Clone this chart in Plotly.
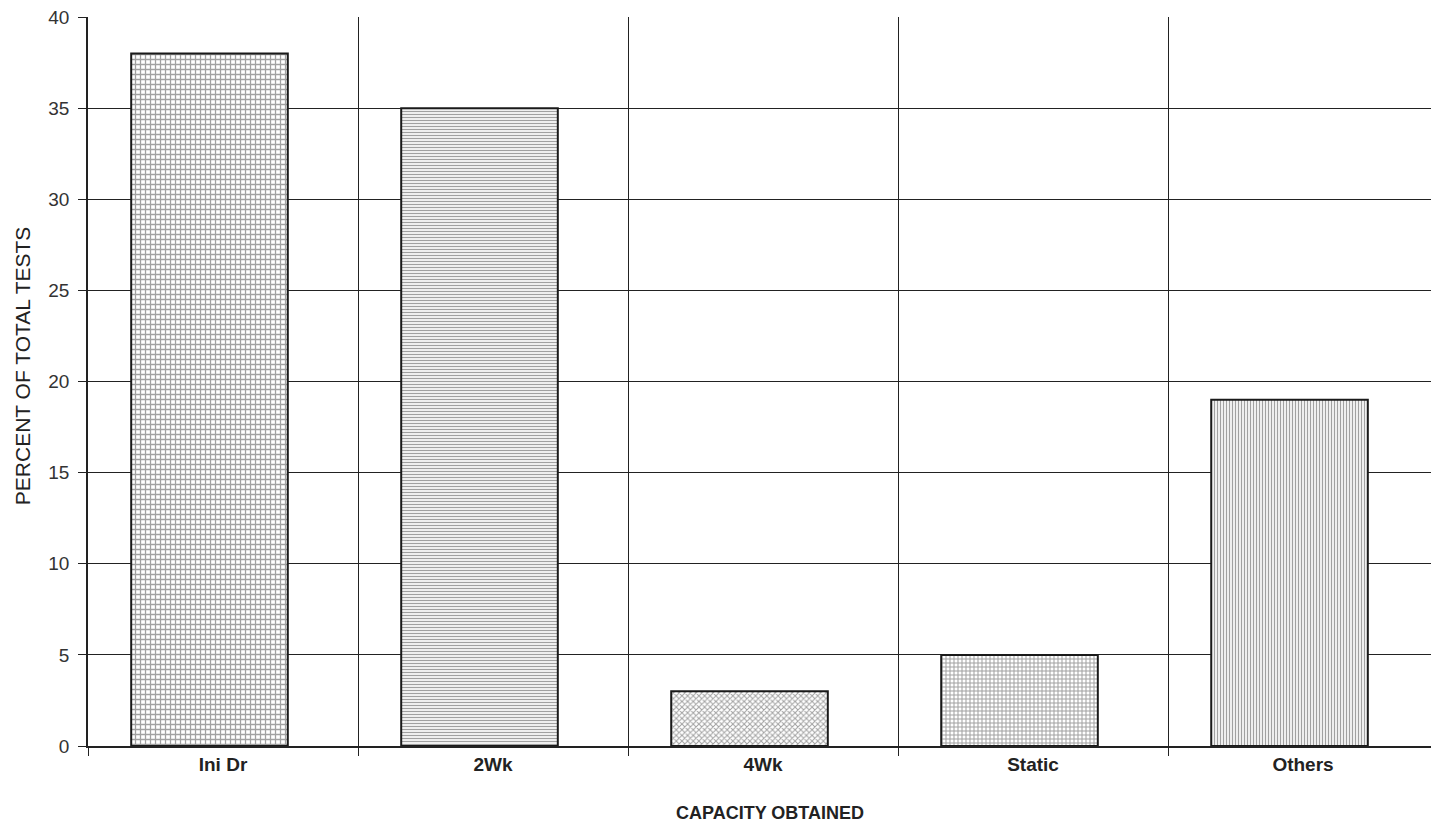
import plotly.graph_objects as go

categories = ["Ini Dr", "2Wk", "4Wk", "Static", "Others"]
percent = [38, 35, 3, 5, 19]
patterns = ["+", "-", "x", "+", "|"]
pattern_sizes = [5, 3, 4, 4, 3]
y_ticks = [0, 5, 10, 15, 20, 25, 30, 35, 40]

FONT = "Liberation Sans, Arial, sans-serif"

fig = go.Figure()
fig.add_trace(go.Bar(
    x=categories,
    y=percent,
    width=0.58,
    offset=-0.34,
    marker=dict(
        color="white",
        line=dict(color="#1a1a1a", width=2),
        pattern=dict(shape=patterns, size=pattern_sizes, solidity=0.45,
                     fgcolor="#444444", bgcolor="white", fillmode="overlay"),
    ),
    showlegend=False,
    hoverinfo="skip",
))

fig.update_layout(
    width=1431, height=829,
    paper_bgcolor="white", plot_bgcolor="white",
    margin=dict(l=88, r=0, t=17, b=83, autoexpand=False),
    font=dict(family=FONT, color="#222"),
    xaxis=dict(
        type="category",
        range=[-0.5, 4.474],
        automargin=False,
        tickson="boundaries",
        ticks="outside", ticklen=8, tickcolor="#222", tickwidth=1,
        showgrid=True, gridcolor="#222", gridwidth=1.2,
        showline=True, linecolor="#222", linewidth=1.5,
        tickfont=dict(size=19, family=FONT, color="#222", weight="bold"),
    ),
    yaxis=dict(
        range=[0, 40],
        automargin=False,
        tickvals=y_ticks,
        ticks="outside", ticklen=8, tickcolor="#222", tickwidth=1,
        ticklabelstandoff=5,
        showgrid=True, gridcolor="#222", gridwidth=1.2,
        showline=True, linecolor="#222", linewidth=1.5,
        zeroline=False,
        tickfont=dict(size=19, color="#333"),
    ),
    annotations=[
        dict(text="CAPACITY OBTAINED", xref="paper", yref="paper",
             x=0.5, xshift=10, y=0, yshift=-67, xanchor="center", yanchor="middle",
             showarrow=False, font=dict(size=18, color="#222", weight="bold")),
        dict(text="PERCENT OF TOTAL TESTS", xref="paper", yref="paper",
             x=0, xshift=-66, y=0.521, xanchor="center", yanchor="middle",
             textangle=-90, showarrow=False, font=dict(size=21, color="#222")),
    ],
)

fig.write_html(
    "out.html",
    config={"displayModeBar": False},
    post_script="document.body.style.margin='0';document.body.style.overflow='hidden';",
)
